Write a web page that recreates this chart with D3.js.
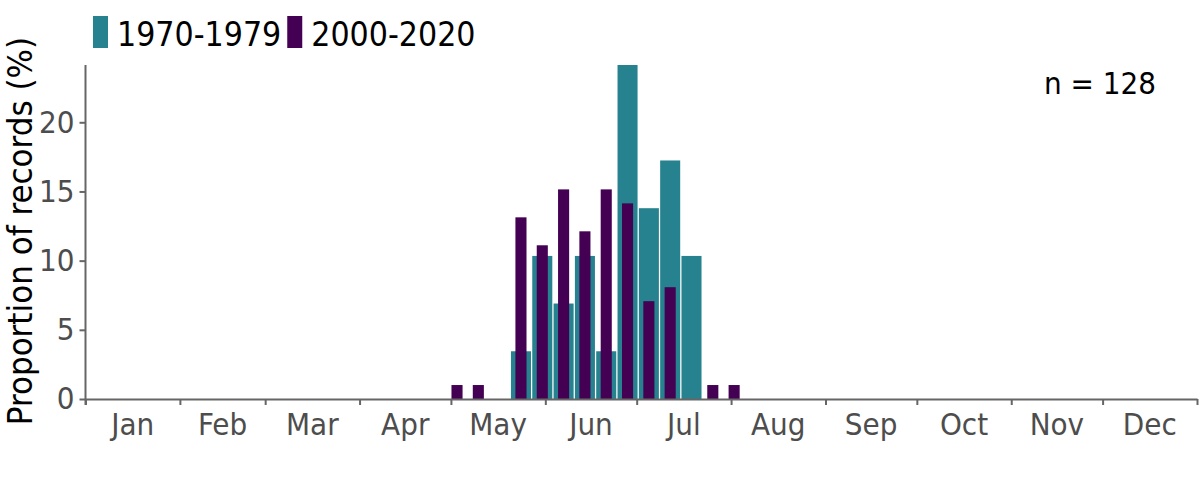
<!DOCTYPE html>
<html>
<head>
<meta charset="utf-8">
<script src="https://cdn.jsdelivr.net/npm/d3@7"></script>
<style>
  html, body { margin: 0; padding: 0; background: #fff; }
  svg { display: block; font-family: "DejaVu Sans Condensed", "DejaVu Sans", sans-serif; font-stretch: condensed; }
</style>
</head>
<body>
<svg id="chart" width="1200" height="480"></svg>
<script>
// ---- data ----
const seriesNames = ["1970-1979", "2000-2020"];
const seriesColors = ["#26828e", "#440154"];
// week of year (1-based) for each bar
const weeks1970 = [21, 22, 23, 24, 25, 26, 27, 28, 29];
const values1970 = [3.45, 10.34, 6.90, 10.34, 3.45, 24.14, 13.79, 17.24, 10.34];
const weeks2000 = [18, 19, 21, 22, 23, 24, 25, 26, 27, 28, 30, 31];
const values2000 = [1.01, 1.01, 13.13, 11.11, 15.15, 12.12, 15.15, 14.14, 7.07, 8.08, 1.01, 1.01];
const monthLabels = ["Jan", "Feb", "Mar", "Apr", "May", "Jun", "Jul", "Aug", "Sep", "Oct", "Nov", "Dec"];
const yTicks = [0, 5, 10, 15, 20];
const yMax = 24.14;
const nLabel = "n = 128";
const yLabel = "Proportion of records (%)";

// ---- layout ----
const mLeft = 85.5, mRight = 1197, mTop = 65, mBottom = 399;
const svg = d3.select("#chart");
const axisColor = "#666666";
const tickTextColor = "#4d4d4d";

const x = d3.scaleUtc()
  .domain([new Date(Date.UTC(2021, 0, 1)), new Date(Date.UTC(2022, 0, 1))])
  .range([mLeft, mRight]);
const y = d3.scaleLinear().domain([0, yMax]).range([mBottom, mTop]);
const dayMs = 86400000;
const weekCenter = w => new Date(Date.UTC(2021, 0, 1) + (7 * (w - 1) + 3) * dayMs);
const weekW = x(new Date(Date.UTC(2021, 0, 8))) - x(new Date(Date.UTC(2021, 0, 1)));

function drawBars(weeks, values, color, frac, cls) {
  const data = weeks.map((w, i) => ({ w, v: values[i] }));
  const bw = weekW * frac;
  svg.append("g").selectAll("rect." + cls).data(data).join("rect")
    .attr("class", cls)
    .attr("x", d => x(weekCenter(d.w)) - bw / 2)
    .attr("width", bw)
    .attr("y", d => y(d.v))
    .attr("height", d => y(0) - y(d.v))
    .attr("fill", color);
}
drawBars(weeks1970, values1970, seriesColors[0], 0.94, "b1970");
drawBars(weeks2000, values2000, seriesColors[1], 0.52, "b2000");

// x axis
const monthStarts = d3.range(13).map(m => new Date(Date.UTC(2021, m, 1)));
const xAxis = d3.axisBottom(x).tickValues(monthStarts).tickSize(6).tickSizeOuter(0).tickFormat("");
const gx = svg.append("g").attr("transform", `translate(0,${mBottom})`).call(xAxis);
gx.select(".domain").attr("stroke", axisColor).attr("stroke-width", 2);
gx.selectAll(".tick line").attr("stroke", axisColor).attr("stroke-width", 2);

// month labels centered in month
svg.append("g").selectAll("text").data(monthLabels).join("text")
  .attr("x", (d, i) => (x(monthStarts[i]) + x(monthStarts[i + 1])) / 2)
  .attr("y", 435)
  .attr("text-anchor", "middle")
  .attr("font-size", 31)
  .attr("fill", tickTextColor)
  .text(d => d);

// y axis
const yAxis = d3.axisLeft(y).tickValues(yTicks).tickSize(6).tickSizeOuter(0).tickPadding(5);
const gy = svg.append("g").attr("transform", `translate(${mLeft},0)`).call(yAxis);
gy.select(".domain").attr("stroke", axisColor).attr("stroke-width", 2)
  .attr("d", `M0,${mTop}V${mBottom + 6}`);
gy.selectAll(".tick line").attr("stroke", axisColor).attr("stroke-width", 2);
gy.selectAll(".tick text").attr("font-size", 31).attr("fill", tickTextColor)
  .attr("font-family", "'DejaVu Sans Condensed', 'DejaVu Sans', sans-serif");

// y label
svg.append("text")
  .attr("transform", `translate(32,${(30 + 432) / 2}) rotate(-90)`)
  .attr("text-anchor", "middle")
  .attr("font-size", 34.5)
  .attr("fill", "#000")
  .text(yLabel);

// n label
svg.append("text")
  .attr("x", 1156).attr("y", 94)
  .attr("text-anchor", "end")
  .attr("font-size", 31)
  .attr("fill", "#000")
  .text(nLabel);

// legend
const leg = svg.append("g");
let lx = 93;
seriesNames.forEach((name, i) => {
  leg.append("rect").attr("x", lx).attr("y", 16).attr("width", 15).attr("height", 32).attr("fill", seriesColors[i]);
  const t = leg.append("text").attr("x", lx + 24).attr("y", 46)
    .attr("font-size", 33.5).attr("fill", "#000").text(name);
  lx = lx + 24 + t.node().getComputedTextLength() + 6;
});
</script>
</body>
</html>
